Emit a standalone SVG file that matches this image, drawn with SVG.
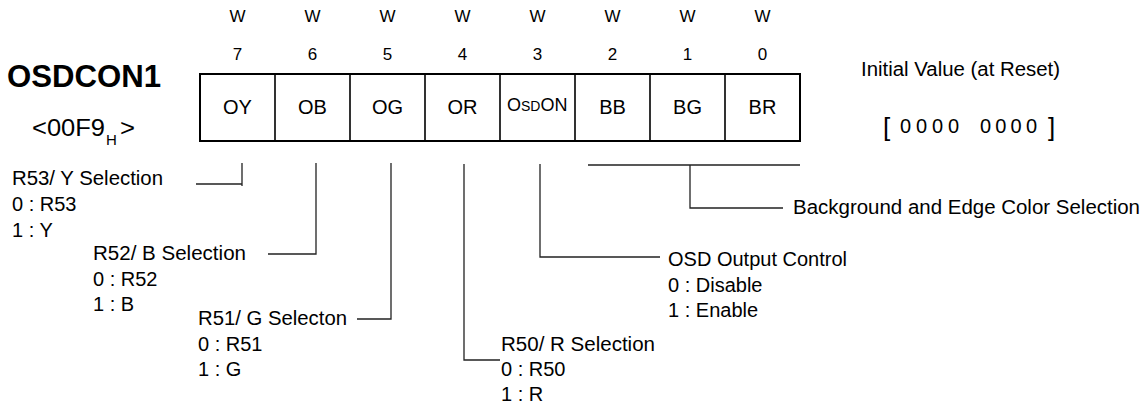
<svg xmlns="http://www.w3.org/2000/svg" width="1147" height="405" viewBox="0 0 1147 405">
<style>
text{font-family:"Liberation Sans",Arial,sans-serif;fill:#000}
.hdr{font-size:17px;text-anchor:middle}
.cell{font-size:20px;text-anchor:middle}
.desc{font-size:20px}
.box{fill:#fff;stroke:#000;stroke-width:2}
.div{stroke:#000;stroke-width:1.6}
.con{fill:none;stroke:#222;stroke-width:1.3}
</style>
<rect width="1147" height="405" fill="#fff"/>
<g id="title">
<text x="7" y="87" font-size="31" font-weight="bold" textLength="154" lengthAdjust="spacingAndGlyphs">OSDCON1</text>
<text x="32" y="136" font-size="24"><tspan x="32" textLength="73" lengthAdjust="spacingAndGlyphs">&lt;00F9</tspan><tspan x="106" font-size="15" dy="9">H</tspan><tspan x="120" dy="-9" textLength="15" lengthAdjust="spacingAndGlyphs">&gt;</tspan></text>
</g>
<g id="header">
<text class="hdr" x="237.5" y="22">W</text><text class="hdr" x="312.5" y="22">W</text><text class="hdr" x="387.5" y="22">W</text><text class="hdr" x="462.5" y="22">W</text><text class="hdr" x="537.5" y="22">W</text><text class="hdr" x="612.5" y="22">W</text><text class="hdr" x="687.5" y="22">W</text><text class="hdr" x="762.5" y="22">W</text>
<text class="hdr" x="237.5" y="60">7</text><text class="hdr" x="312.5" y="60">6</text><text class="hdr" x="387.5" y="60">5</text><text class="hdr" x="462.5" y="60">4</text><text class="hdr" x="537.5" y="60">3</text><text class="hdr" x="612.5" y="60">2</text><text class="hdr" x="687.5" y="60">1</text><text class="hdr" x="762.5" y="60">0</text>
</g>
<g id="register">
<rect class="box" x="200" y="74" width="600" height="67"/>
<path class="div" d="M275 74V141M350 74V141M425 74V141M500 74V141M575 74V141M650 74V141M725 74V141"/>
<text class="cell" x="237.5" y="114">OY</text>
<text class="cell" x="312.5" y="114">OB</text>
<text class="cell" x="387.5" y="114">OG</text>
<text class="cell" x="462.5" y="114">OR</text>
<text x="507" y="111" font-size="18">O<tspan font-size="14">SD</tspan>ON</text>
<text class="cell" x="612.5" y="114">BB</text>
<text class="cell" x="687.5" y="114">BG</text>
<text class="cell" x="762.5" y="114">BR</text>
</g>
<g id="initial">
<text class="desc" x="861" y="76" textLength="199" lengthAdjust="spacingAndGlyphs">Initial Value (at Reset)</text>
<text font-size="20" y="133"><tspan x="883" font-size="26" y="136">[</tspan><tspan x="900" y="133" textLength="59">0000</tspan><tspan x="980" y="133" textLength="57">0000</tspan><tspan x="1048" font-size="26" y="136">]</tspan></text>
</g>
<g id="connectors">
<path class="con" d="M242 163V186M196 184H242"/>
<path class="con" d="M316 163V254H268"/>
<path class="con" d="M391 163V319H357"/>
<path class="con" d="M464 164V360H500"/>
<path class="con" d="M540 164V257H660"/>
<path class="con" d="M588 165H800M690 165V208H783"/>
</g>
<g id="desc-oy">
<text class="desc" x="12" y="185" textLength="151" lengthAdjust="spacingAndGlyphs">R53/ Y Selection</text>
<text class="desc" x="12" y="211">0 : R53</text>
<text class="desc" x="12" y="237">1 : Y</text>
</g>
<g id="desc-ob">
<text class="desc" x="93" y="260" textLength="153" lengthAdjust="spacingAndGlyphs">R52/ B Selection</text>
<text class="desc" x="93" y="286">0 : R52</text>
<text class="desc" x="93" y="311">1 : B</text>
</g>
<g id="desc-og">
<text class="desc" x="198" y="325" textLength="149" lengthAdjust="spacingAndGlyphs">R51/ G Selecton</text>
<text class="desc" x="198" y="351">0 : R51</text>
<text class="desc" x="198" y="376">1 : G</text>
</g>
<g id="desc-or">
<text class="desc" x="501" y="351" textLength="154" lengthAdjust="spacingAndGlyphs">R50/ R Selection</text>
<text class="desc" x="501" y="376">0 : R50</text>
<text class="desc" x="501" y="401">1 : R</text>
</g>
<g id="desc-osdon">
<text class="desc" x="668" y="266">OSD Output Control</text>
<text class="desc" x="668" y="292">0 : Disable</text>
<text class="desc" x="668" y="317">1 : Enable</text>
</g>
<g id="desc-bg">
<text class="desc" x="793" y="214" textLength="347" lengthAdjust="spacingAndGlyphs">Background and Edge Color Selection</text>
</g>
</svg>
